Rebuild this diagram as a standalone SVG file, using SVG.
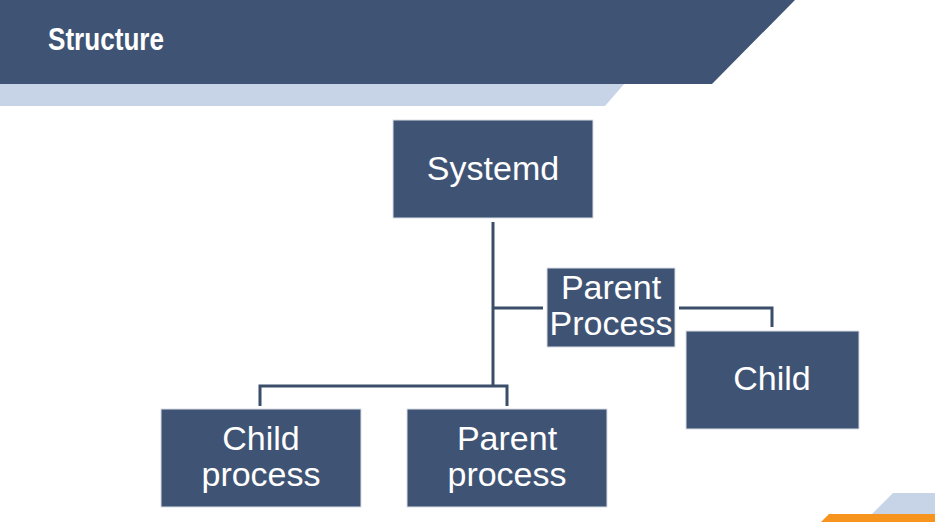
<svg xmlns="http://www.w3.org/2000/svg" width="935" height="522" viewBox="0 0 935 522">
<style>
.box{fill:#3F5474;stroke:#D9DEE6;stroke-width:1}
.lbl{font-family:"Liberation Sans",Arial,sans-serif;font-size:34px;fill:#FFFFFF;text-anchor:middle}
.conn{fill:none;stroke:#3A4D69;stroke-width:3}
</style>
<rect x="0" y="0" width="935" height="522" fill="#FFFFFF"/>
<g id="header">
<polygon points="0,83 625,83 605,106 0,106" fill="#C7D4E8"/>
<polygon points="0,0 795,0 712,84 0,84" fill="#3F5474"/>
<text x="48" y="50" font-family="'Liberation Sans Narrow','Liberation Sans',Arial,sans-serif" font-weight="bold" font-size="32" fill="#FFFFFF" textLength="116" lengthAdjust="spacingAndGlyphs">Structure</text>
</g>
<g id="footer">
<polygon points="893,493 935,493 935,514 872,514" fill="#C7D4E8"/>
<polygon points="829,514 935,514 935,522 821,522" fill="#F7941D"/>
</g>
<g id="connectors">
<path class="conn" d="M493,222 V386"/>
<path class="conn" d="M493,308 H543"/>
<path class="conn" d="M260,406 V386 H507 V406"/>
<path class="conn" d="M679,308 H772 V327"/>
</g>
<g id="systemd">
<rect class="box" x="393" y="120" width="200" height="98"/>
<text class="lbl" x="493" y="180">Systemd</text>
</g>
<g id="parent-process-mid">
<rect class="box" x="547" y="268" width="128" height="79"/>
<text class="lbl" x="611" y="299">Parent</text>
<text class="lbl" x="611" y="335">Process</text>
</g>
<g id="child">
<rect class="box" x="686" y="331" width="173" height="98"/>
<text class="lbl" x="772" y="390">Child</text>
</g>
<g id="child-process">
<rect class="box" x="161" y="409" width="200" height="98"/>
<text class="lbl" x="261" y="450">Child</text>
<text class="lbl" x="261" y="486">process</text>
</g>
<g id="parent-process">
<rect class="box" x="407" y="409" width="200" height="98"/>
<text class="lbl" x="507" y="450">Parent</text>
<text class="lbl" x="507" y="486">process</text>
</g>
</svg>
